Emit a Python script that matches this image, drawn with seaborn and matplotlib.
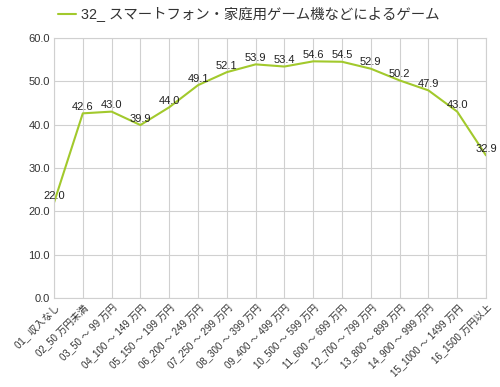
import pandas as pd
import matplotlib
matplotlib.use('Agg')
import matplotlib.pyplot as plt
import seaborn as sns

categories = ['01_ 収入なし', '02_50 万円未満', '03_50 ～ 99 万円', '04_100 ～ 149 万円',
              '05_150 ～ 199 万円', '06_200 ～ 249 万円', '07_250 ～ 299 万円', '08_300 ～ 399 万円',
              '09_400 ～ 499 万円', '10_500 ～ 599 万円', '11_600 ～ 699 万円', '12_700 ～ 799 万円',
              '13_800 ～ 899 万円', '14_900 ～ 999 万円', '15_1000 ～ 1499 万円', '16_1500 万円以上']
values = [22.0, 42.6, 43.0, 39.9, 44.0, 49.1, 52.1, 53.9, 53.4, 54.6, 54.5, 52.9, 50.2, 47.9, 43.0, 32.9]
series_name = '32_ スマートフォン・家庭用ゲーム機などによるゲーム'

df = pd.DataFrame({'pos': range(len(categories)), 'value': values})

sns.set_style('whitegrid')
plt.rcParams['font.family'] = ['Liberation Sans', 'Noto Sans CJK JP', 'DejaVu Sans']

fig = plt.figure(figsize=(5.0, 3.87), dpi=100)
ax = fig.add_axes([0.108, 0.23, 0.864, 0.672])

line_color = '#a2c92c'
sns.lineplot(data=df, x='pos', y='value', ax=ax, color=line_color, linewidth=1.5,
             label=series_name)

for x, v in zip(df['pos'], df['value']):
    ax.annotate(f'{v:.1f}', (x, v), xytext=(0, 1), textcoords='offset points',
                ha='center', va='bottom', fontsize=8, color='#222222')

ax.set_xlim(0, len(categories) - 1)
ax.set_ylim(0, 60)
ax.set_yticks([0, 10, 20, 30, 40, 50, 60])
ax.set_yticklabels([f'{t:.1f}' for t in ax.get_yticks()], fontsize=8, color='#333333')
ax.set_xticks(range(len(categories)))
ax.set_xticklabels(categories, rotation=45, ha='right', rotation_mode='anchor',
                   fontsize=7, color='#333333')
ax.set_xlabel('')
ax.set_ylabel('')
ax.grid(True, color='#d0d0d0', linewidth=0.8)
ax.tick_params(axis='both', length=0, pad=3)
for s in ax.spines.values():
    s.set_color('#d0d0d0')
    s.set_linewidth(0.8)

leg = ax.legend(loc='lower center', bbox_to_anchor=(0.45, 1.012), frameon=False,
                fontsize=10.4, handlelength=1.3, handletextpad=0.3)
for t in leg.get_texts():
    t.set_color('#333333')

fig.savefig('out.png', dpi=100)
